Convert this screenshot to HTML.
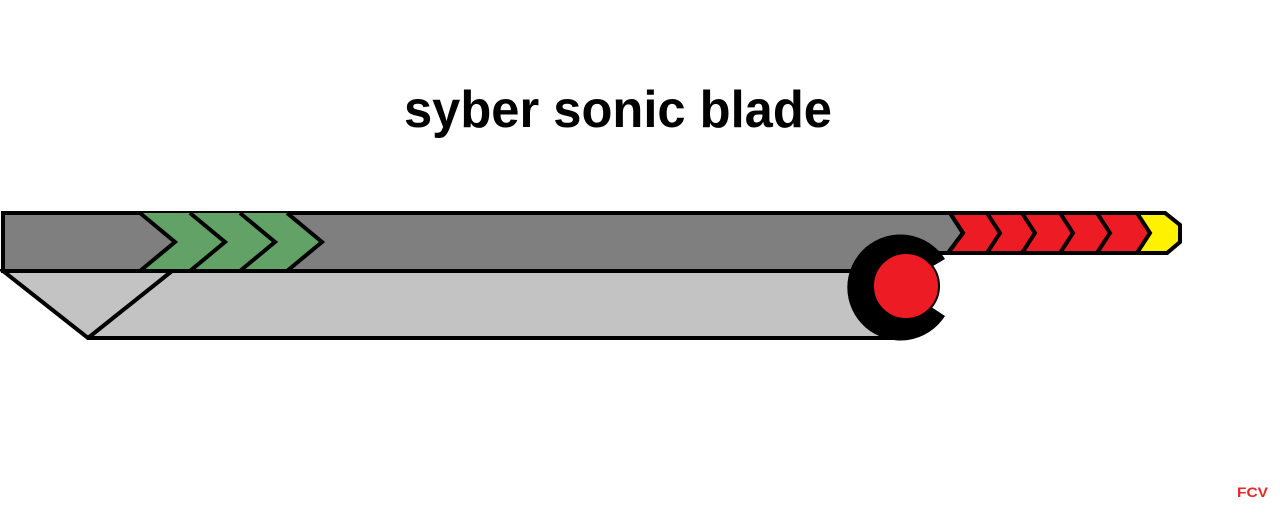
<!DOCTYPE html>
<html><head><meta charset="utf-8"><style>html,body{margin:0;padding:0;background:#fff}svg{display:block}</style></head>
<body>
<svg width="1280" height="529" viewBox="0 0 1280 529" xmlns="http://www.w3.org/2000/svg">
<rect width="1280" height="529" fill="#fff"/>
<text x="618" y="127" text-anchor="middle" font-family="Liberation Sans, sans-serif" font-weight="bold" font-size="52" textLength="428" lengthAdjust="spacingAndGlyphs" fill="#000">syber sonic blade</text>
<g stroke="#000" stroke-width="4" stroke-linejoin="miter">
<polygon points="3,271 905,271 905,338 88,338" fill="#c3c3c3"/>
<line x1="172" y1="271" x2="88" y2="338"/>
<polygon points="3,213 950,213 963,233 948,253 905,253 905,271 3,271" fill="#7f7f7f"/>
<polygon points="140,213 287,213 322,242 287,271 140,271 175,242" fill="#62a266" stroke="none"/>
<polyline points="140,213 175,242 140,271" fill="none"/>
<polyline points="190,213 225,242 190,271" fill="none"/>
<polyline points="240,213 275,242 240,271" fill="none"/>
<polyline points="287,213 322,242 287,271" fill="none"/>
<line x1="3" y1="271" x2="905" y2="271"/>
<polygon points="950,213 1165,213 1180,225 1180,242 1167,253 948,253 963,233" fill="#ed1c24"/>
<polygon points="1137,213 1165,213 1180,225 1180,242 1167,253 1137,253 1150,233" fill="#fff200" stroke="none"/>
<polygon points="950,213 1165,213 1180,225 1180,242 1167,253 948,253 963,233" fill="none"/>
<polyline points="987,213 1000,233 987,253" fill="none"/>
<polyline points="1022,213 1035,233 1022,253" fill="none"/>
<polyline points="1060,213 1073,233 1060,253" fill="none"/>
<polyline points="1097,213 1110,233 1097,253" fill="none"/>
<polyline points="1137,213 1150,233 1137,253" fill="none"/>
</g>
<path d="M899,286 L945,259 A53,53 0 1 0 945,316 Z" fill="#000"/>
<circle cx="906" cy="286" r="33" fill="#ed1c24" stroke="#000" stroke-width="2"/>
<text x="1237" y="497" font-family="Liberation Sans, sans-serif" font-weight="bold" font-size="14" fill="#e8262b" textLength="31" lengthAdjust="spacingAndGlyphs">FCV</text>
</svg>
</body></html>
